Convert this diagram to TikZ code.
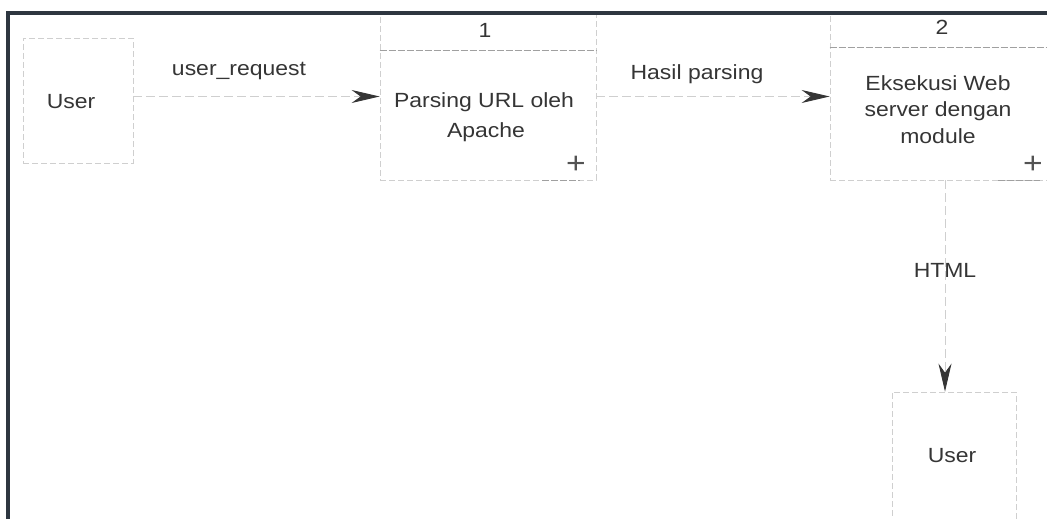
\documentclass[tikz,border=0pt]{standalone}
\usepackage{fontspec}
\setmainfont{Liberation Sans}[FakeStretch=1.12]
\usetikzlibrary{arrows.meta}
\definecolor{frame}{HTML}{2E3640}
\definecolor{txt}{HTML}{353535}
\definecolor{edge}{HTML}{CFCFCF}
\definecolor{divc}{HTML}{A0A0A0}
\begin{document}
\begin{tikzpicture}[x=1pt,y=-1pt,
  lbl/.style={text=txt,font=\fontsize{20.5}{26}\selectfont,inner sep=0pt,anchor=base},
  pluslbl/.style={text=txt!85,font=\fontsize{30}{30}\selectfont,inner sep=0pt},
  boxline/.style={draw=edge,dash pattern=on 6pt off 3pt,line width=0.8pt,inner sep=0pt},
  divline/.style={draw=divc,dash pattern=on 7pt off 2pt,line width=0.8pt},
  flow/.style={draw=edge,dash pattern=on 9pt off 4pt,line width=0.9pt,
     -{Stealth[length=28pt,width=13pt,inset=9pt,color=txt]}},
  framestyle/.style={draw=frame,line width=3.5pt}
]
\clip (0,0) rectangle (1047,519);
\fill[white] (0,0) rectangle (1047,519);

% external entity (left)
\node[boxline,minimum width=110pt,minimum height=125pt] (user1) at (78,100.5) {};
\node[lbl] (user1t) at (71,108) {User};

% process 1
\node[boxline,minimum width=216pt,minimum height=167pt] (p1) at (488,96.5) {};
\coordinate (d1) at (0,50);
\draw[divline] (p1.west |- d1) -- (p1.east |- d1);
\coordinate (b1a) at (542,180);
\coordinate (b1b) at (580,180);
\draw[divline] (b1a) -- (b1b);
\node[lbl] (p1n) at (485,38) {1};
\node[lbl] (p1t1) at (484,107) {Parsing URL oleh};
\node[lbl] (p1t2) at (486,137) {Apache};
\node[pluslbl] (p1p) at (576,165) {+};

% process 2
\node[boxline,minimum width=230pt,minimum height=167pt] (p2) at (945,96.5) {};
\coordinate (d2) at (0,47);
\draw[divline] (p2.west |- d2) -- (p2.east |- d2);
\coordinate (b2a) at (998,180);
\coordinate (b2b) at (1040,180);
\draw[divline] (b2a) -- (b2b);
\node[lbl] (p2n) at (942,35) {2};
\node[lbl] (p2t1) at (938,90) {Eksekusi Web};
\node[lbl] (p2t2) at (938,117) {server dengan};
\node[lbl] (p2t3) at (938,143) {module};
\node[pluslbl] (p2p) at (1033,165) {+};

% external entity (bottom right)
\node[boxline,minimum width=124pt,minimum height=138pt] (user2) at (954,461) {};
\node[lbl] (user2t) at (952,462) {User};

% flows
\draw[flow] (user1.east |- p1.west) -- (p1.west);
\draw[flow] (p1.east) -- (p1.east -| p2.west);
\draw[flow] (p2.south) -- (p2.south |- user2.north);

% flow labels
\node[lbl] (l1) at (239,76) {user\_request};
\node[lbl] (l2) at (697,79) {Hasil parsing};
\node[lbl] (l3) at (945,277) {HTML};

% frame
\coordinate (fa) at (8,600);
\coordinate (fb) at (8,13);
\coordinate (fc) at (1100,13);
\draw[framestyle] (fa) -- (fb) -- (fc);
\end{tikzpicture}
\end{document}
